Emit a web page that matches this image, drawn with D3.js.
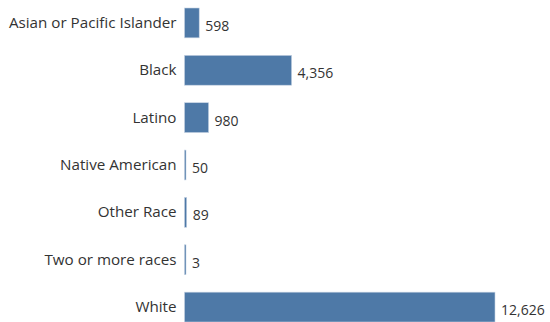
<!DOCTYPE html>
<html>
<head>
<meta charset="utf-8">
<script src="https://cdn.jsdelivr.net/npm/d3@7"></script>
<style>
  body { margin: 0; background: #fff; }
  text { font-family: "Open Sans", "Noto Sans", sans-serif; }
</style>
</head>
<body>
<div id="chart"></div>
<script>
var categories = ["Asian or Pacific Islander", "Black", "Latino", "Native American",
                  "Other Race", "Two or more races", "White"];
var counts = [598, 4356, 980, 50, 89, 3, 12626];

var totalWidth = 550,
    totalHeight = 322,
    mTop = 8,
    mBottom = 0,
    mLeft = 184.5,
    mRight = 55;

var width = totalWidth - mLeft - mRight,
    height = totalHeight - mTop - mBottom;

var data = categories.map(function(c, i) { return {cat: c, val: counts[i]}; });

var xScale = d3.scaleLinear()
    .domain([0, d3.max(counts)])
    .range([0, width]);

var yScale = d3.scaleBand()
    .domain(categories)
    .range([0, height])
    .paddingInner(0.37)
    .paddingOuter(0);

var svg = d3.select("#chart").append("svg")
    .attr("width", totalWidth)
    .attr("height", totalHeight);

var g = svg.append("g")
    .attr("transform", "translate(" + mLeft + "," + mTop + ")");

// category labels on the left
var yAxis = d3.axisLeft(yScale).tickSize(0).tickPadding(8);
g.append("g")
    .call(yAxis)
    .call(function(a) { a.select(".domain").remove(); })
    .selectAll("text")
    .attr("font-size", 15.2)
    .attr("fill", "#333");

// bars
g.selectAll("rect.bar")
    .data(data)
    .enter().append("rect")
    .attr("class", "bar")
    .attr("x", 0)
    .attr("y", function(d) { return yScale(d.cat); })
    .attr("width", function(d) { return Math.max(xScale(d.val), 1.5); })
    .attr("height", yScale.bandwidth())
    .attr("fill", "#4e79a7")
    .attr("stroke", "#c6d3e3")
    .attr("stroke-width", 0.6);

// value labels
var fmt = d3.format(",");
g.selectAll("text.val")
    .data(data)
    .enter().append("text")
    .attr("class", "val")
    .attr("x", function(d) { return Math.max(xScale(d.val), 1.5) + 6; })
    .attr("y", function(d) { return yScale(d.cat) + yScale.bandwidth() / 2 + 3; })
    .attr("dy", "0.35em")
    .attr("font-size", 14)
    .attr("fill", "#333")
    .text(function(d) { return fmt(d.val); });
</script>
</body>
</html>
